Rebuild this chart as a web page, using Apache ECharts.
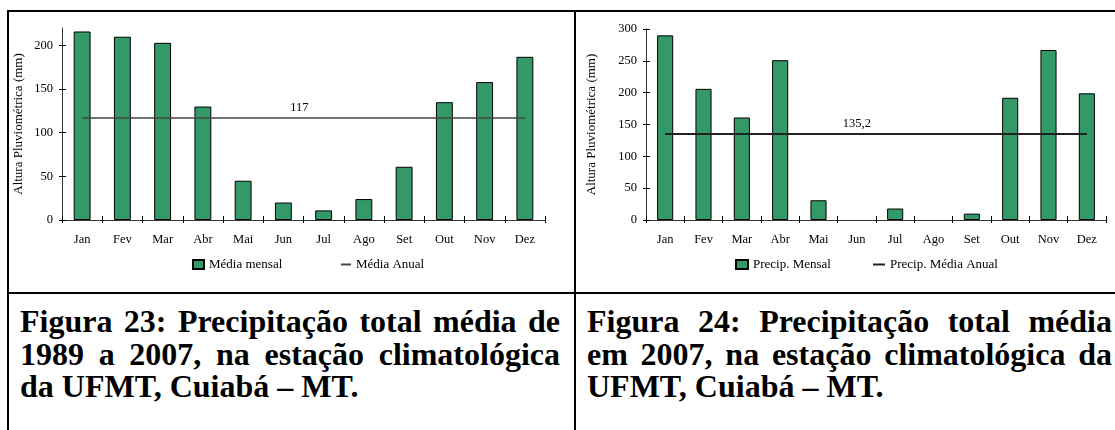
<!DOCTYPE html>
<html>
<head>
<meta charset="utf-8">
<script src="https://cdn.jsdelivr.net/npm/echarts@6/dist/echarts.min.js"></script>
<style>
  html, body { margin: 0; padding: 0; background: #fff; }
  #page { position: relative; width: 1115px; height: 430px; overflow: hidden; }
  .ln { position: absolute; background: #000; }
  .cap { position: absolute; font-family: "Liberation Serif", "Times New Roman", serif; font-weight: bold;
         font-size: 32px; line-height: 32.5px; text-align: justify; color: #000; }
  #chart { position: absolute; left: 0; top: 0; width: 1115px; height: 430px; }
</style>
</head>
<body>
<div id="page">
  <div class="ln" style="left:7px;top:10px;width:1108px;height:2px"></div>
  <div class="ln" style="left:7px;top:10px;width:2px;height:420px"></div>
  <div class="ln" style="left:574px;top:10px;width:2px;height:420px"></div>
  <div class="ln" style="left:7px;top:292px;width:1108px;height:2px"></div>
  <div class="cap" style="left:20px;top:305px;width:540px">Figura 23: Precipitação total média de 1989 a 2007, na estação climatológica da UFMT, Cuiabá – MT.</div>
  <div class="cap" style="left:587px;top:305px;width:525px">Figura 24: Precipitação total média em 2007, na estação climatológica da UFMT, Cuiabá – MT.</div>
  <div id="chart"></div>
</div>
<script>
// dados (mm)
var meses = ['Jan', 'Fev', 'Mar', 'Abr', 'Mai', 'Jun', 'Jul', 'Ago', 'Set', 'Out', 'Nov', 'Dez']
var mediaMensal = [216, 210, 203, 130, 45, 20, 11, 24, 61, 135, 158, 187]
var mediaAnual = 117
var precipMensal = [290, 206, 161, 251, 31, 0, 18, 0, 10, 192, 267, 199]
var precipMediaAnual = 135.2
var ticksEsq = [0, 50, 100, 150, 200]
var ticksDir = [0, 50, 100, 150, 200, 250, 300]

var fonte = '"Liberation Serif", "Times New Roman", serif'
var verde = '#339966'

function linhaMedia(v, txt, dx) {
  return meses.map(function (m, i) {
    if (i !== 5) return v
    return {
      value: v,
      label: { show: true, position: 'top', distance: 4, offset: [dx, 0], formatter: txt,
               fontFamily: fonte, fontSize: 12.5, color: '#000' }
    }
  })
}

function eixoX(grid) {
  return {
    type: 'category', gridIndex: grid, data: meses,
    axisLine: { lineStyle: { color: '#333', width: 1 } },
    axisTick: { show: true, length: 3, lineStyle: { color: '#000' } },
    axisLabel: { fontFamily: fonte, fontSize: 12.5, color: '#000', margin: 13 },
    splitLine: { show: false }
  }
}

// segundo eixo só para o traço dos ticks cruzar a linha do eixo
function eixoXInterno(grid) {
  return {
    type: 'category', gridIndex: grid, data: meses, position: 'bottom',
    axisLine: { show: false },
    axisTick: { show: true, inside: true, length: 4, lineStyle: { color: '#000' } },
    axisLabel: { show: false }, splitLine: { show: false }
  }
}

function eixoY(grid, max, ticks, gap) {
  return {
    type: 'value', gridIndex: grid, min: 0, max: max,
    name: 'Altura Pluviométrica (mm)', nameLocation: 'middle', nameGap: gap,
    nameTextStyle: { fontFamily: fonte, fontSize: 13, color: '#000' },
    axisLine: { show: true, lineStyle: { color: '#333', width: 1 } },
    axisTick: { show: true, length: 3, customValues: ticks, lineStyle: { color: '#000' } },
    axisLabel: { customValues: ticks, fontFamily: fonte, fontSize: 12.5, color: '#000', margin: 9 },
    splitLine: { show: false }
  }
}

function eixoYInterno(grid, max, ticks) {
  return {
    type: 'value', gridIndex: grid, min: 0, max: max, position: 'left',
    axisLine: { show: false },
    axisTick: { show: true, inside: true, length: 4, customValues: ticks, lineStyle: { color: '#000' } },
    axisLabel: { show: false }, splitLine: { show: false }
  }
}

function legenda(left, nome, w, h) {
  return {
    left: left, top: 258, padding: 0, data: [{ name: nome, icon: 'rect' }],
    itemWidth: w, itemHeight: h, itemGap: 0,
    textStyle: { fontFamily: fonte, fontSize: 13, color: '#000' }
  }
}

function semZero(arr) {
  return arr.map(function (v) { return v === 0 ? null : v })
}

var myChart = echarts.init(document.getElementById('chart'))
myChart.setOption({
  animation: false,
  grid: [
    { left: 62, right: 570, top: 28, bottom: 210 },
    { left: 646, right: 9, top: 29, bottom: 210 }
  ],
  xAxis: [eixoX(0), eixoX(1), eixoXInterno(0), eixoXInterno(1)],
  yAxis: [eixoY(0, 220, ticksEsq, 37), eixoY(1, 300, ticksDir, 48),
          eixoYInterno(0, 220, ticksEsq), eixoYInterno(1, 300, ticksDir)],
  legend: [
    legenda(192, 'Média mensal', 11, 9),
    legenda(341, 'Média Anual', 10, 2),
    legenda(735, 'Precip. Mensal', 12, 9),
    legenda(873, 'Precip. Média Anual', 12, 2)
  ],
  series: [
    {
      name: 'Média mensal', type: 'bar', xAxisIndex: 0, yAxisIndex: 0,
      data: mediaMensal, barWidth: '42%',
      itemStyle: { color: verde, borderColor: '#000', borderWidth: 1 }
    },
    {
      name: 'Média Anual', type: 'line', xAxisIndex: 0, yAxisIndex: 0,
      data: linhaMedia(mediaAnual, '117', 16), symbol: 'circle', symbolSize: 0, showSymbol: true,
      lineStyle: { color: '#444', width: 1.5 }, itemStyle: { color: '#444' }
    },
    {
      name: 'Precip. Mensal', type: 'bar', xAxisIndex: 1, yAxisIndex: 1,
      data: semZero(precipMensal), barWidth: '42%',
      itemStyle: { color: verde, borderColor: '#000', borderWidth: 1 }
    },
    {
      name: 'Precip. Média Anual', type: 'line', xAxisIndex: 1, yAxisIndex: 1,
      data: linhaMedia(precipMediaAnual, '135,2', 0), symbol: 'circle', symbolSize: 0, showSymbol: true,
      lineStyle: { color: '#222', width: 2 }, itemStyle: { color: '#222' }
    }
  ]
})
window.addEventListener('resize', function () {
  myChart.resize()
})
</script>
</body>
</html>
